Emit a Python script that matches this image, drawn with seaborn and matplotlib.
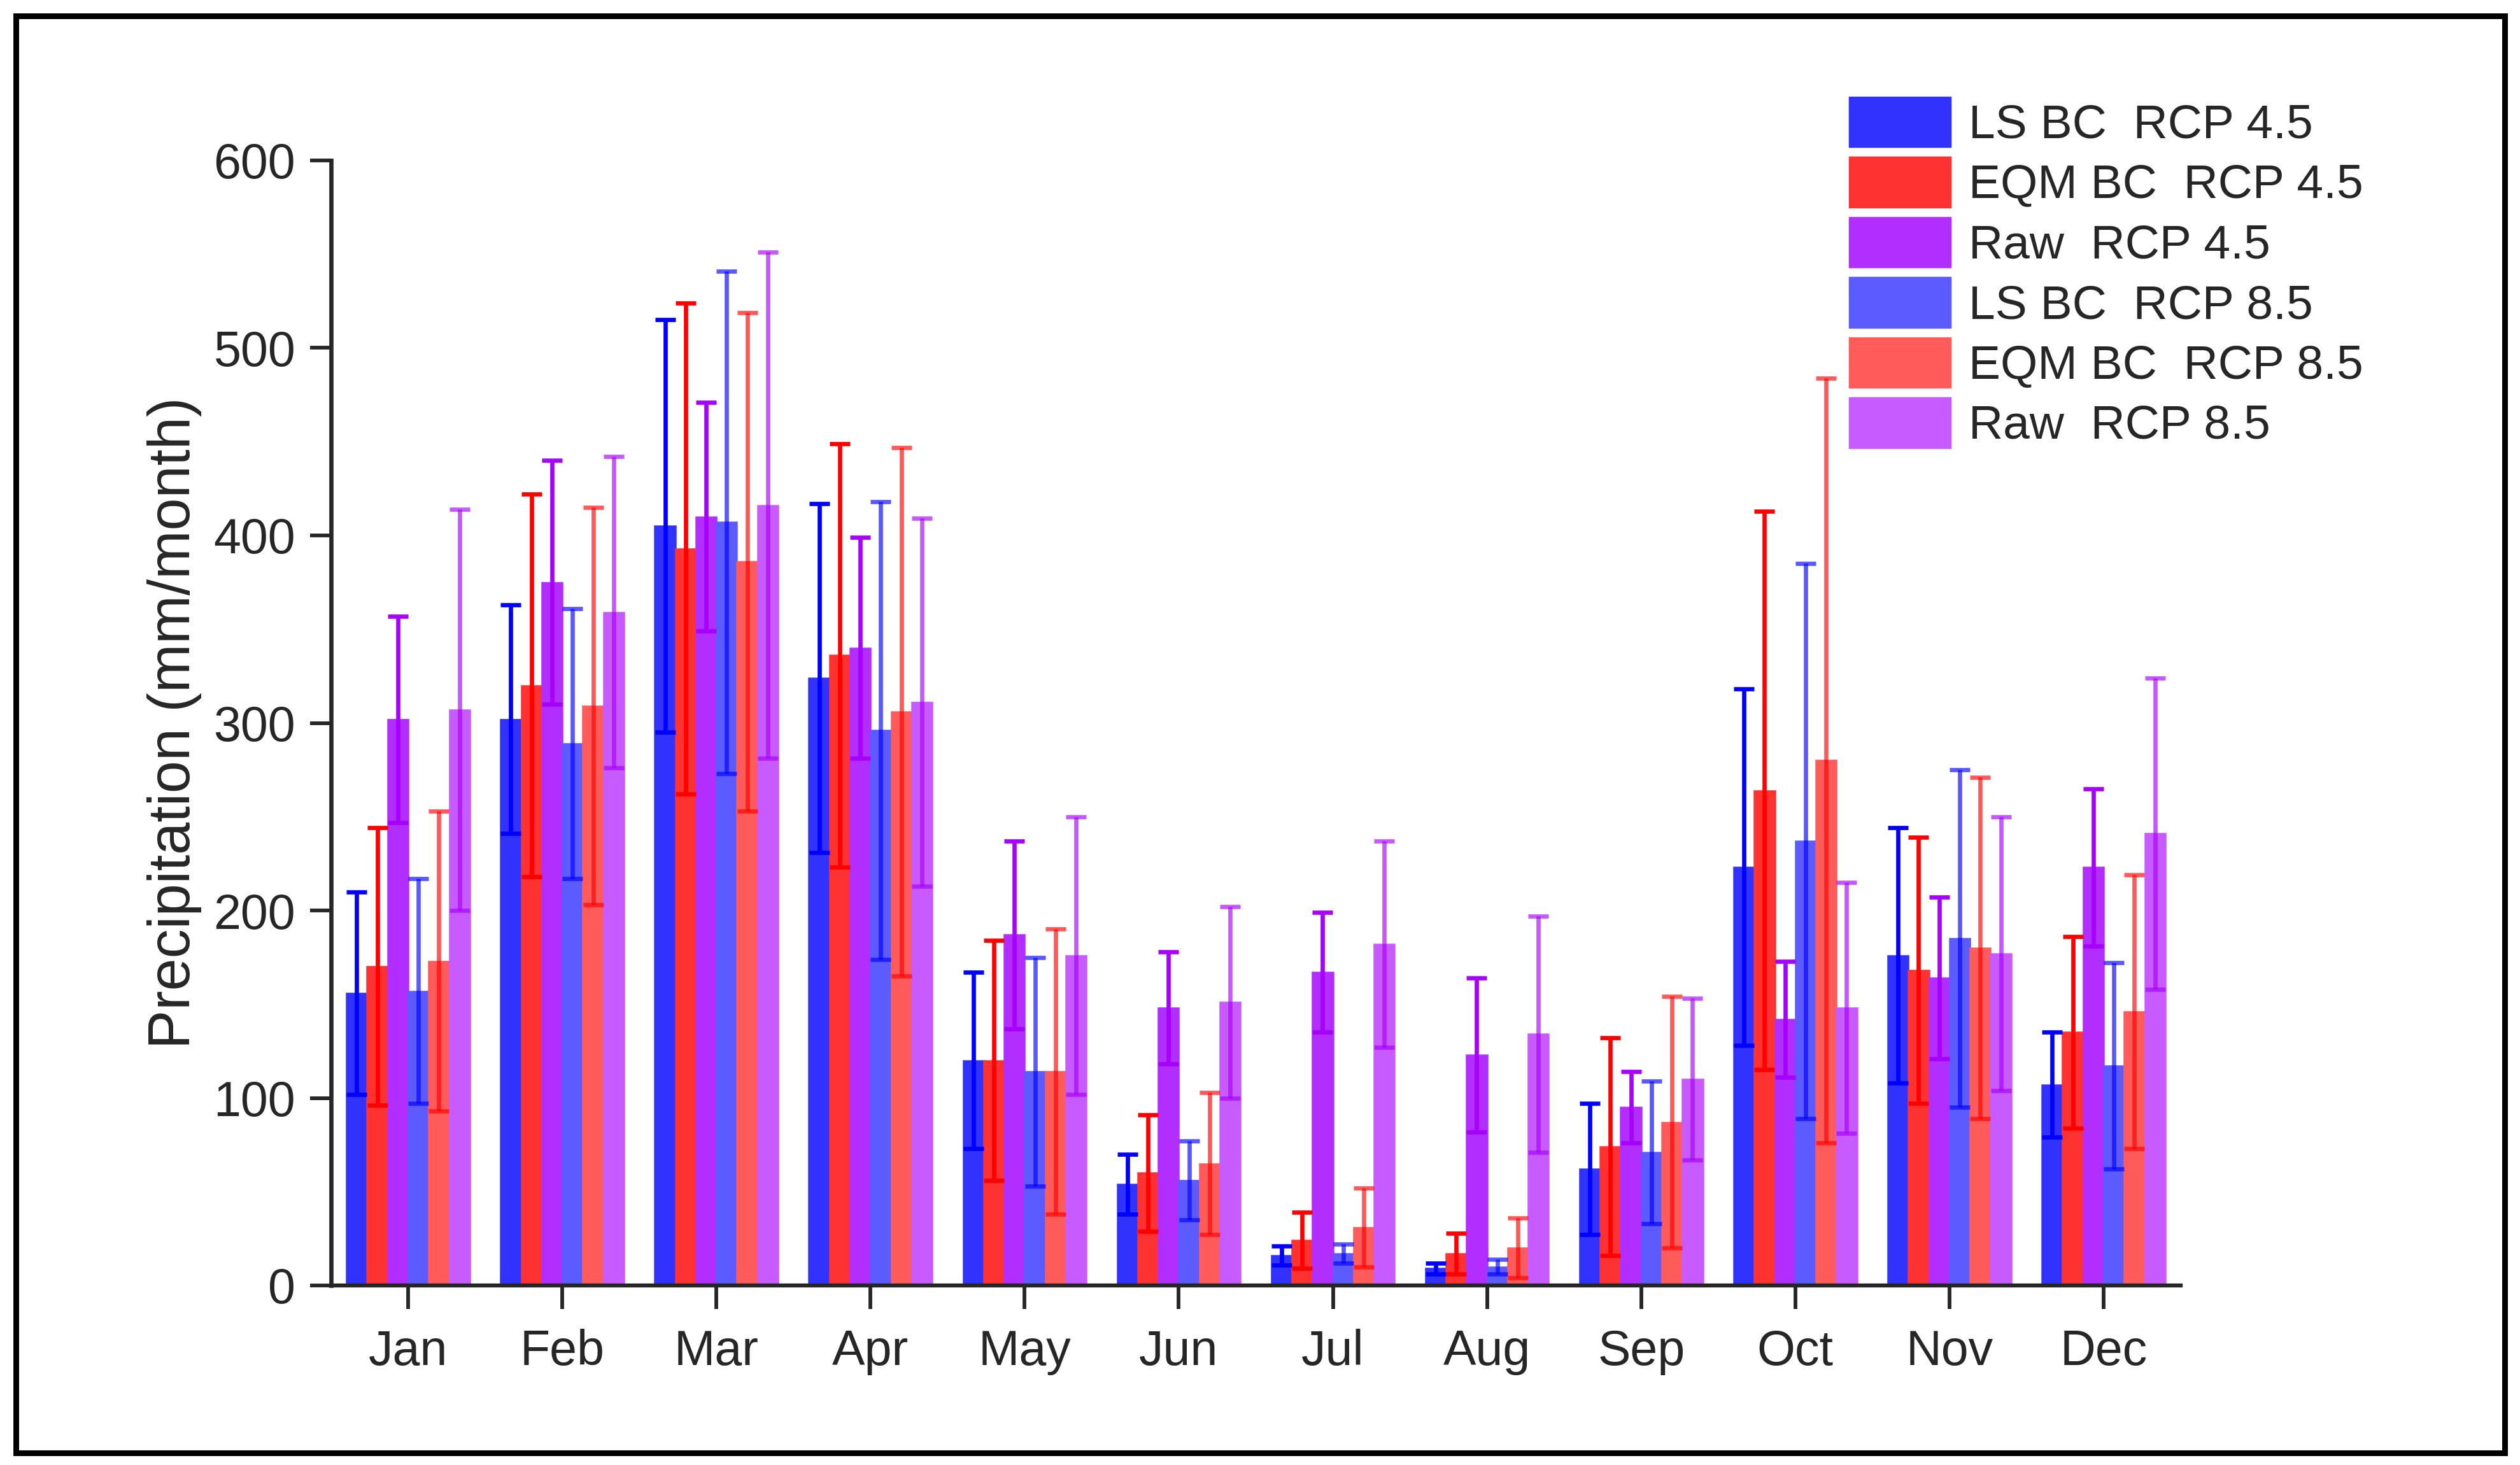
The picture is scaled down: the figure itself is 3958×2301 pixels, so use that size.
import matplotlib
matplotlib.use("Agg")
import matplotlib.pyplot as plt
from matplotlib.patches import Rectangle
import seaborn as sns
import pandas as pd
import numpy as np

months = ["Jan", "Feb", "Mar", "Apr", "May", "Jun", "Jul", "Aug", "Sep", "Oct", "Nov", "Dec"]
series = ["LS BC  RCP 4.5", "EQM BC  RCP 4.5", "Raw  RCP 4.5",
          "LS BC  RCP 8.5", "EQM BC  RCP 8.5", "Raw  RCP 8.5"]

ls45_mean = [156, 302, 405, 324, 120, 54, 16, 9, 62, 223, 176, 107]
ls45_sd = [54, 61, 110, 93, 47, 16, 5, 3, 35, 95, 68, 28]
eqm45_mean = [170, 320, 393, 336, 120, 60, 24, 17, 74, 264, 168, 135]
eqm45_sd = [74, 102, 131, 113, 64, 31, 15, 11, 58, 149, 71, 51]
raw45_mean = [302, 375, 410, 340, 187, 148, 167, 123, 95, 142, 164, 223]
raw45_sd = [55, 65, 61, 59, 50, 30, 32, 41, 19, 31, 43, 42]
ls85_mean = [157, 289, 407, 296, 114, 56, 17, 10, 71, 237, 185, 117]
ls85_sd = [60, 72, 134, 122, 61, 21, 5, 4, 38, 148, 90, 55]
eqm85_mean = [173, 309, 386, 306, 114, 65, 31, 20, 87, 280, 180, 146]
eqm85_sd = [80, 106, 133, 141, 76, 38, 21, 16, 67, 204, 91, 73]
raw85_mean = [307, 359, 416, 311, 176, 151, 182, 134, 110, 148, 177, 241]
raw85_sd = [107, 83, 135, 98, 74, 51, 55, 63, 43, 67, 73, 83]

means = [ls45_mean, eqm45_mean, raw45_mean, ls85_mean, eqm85_mean, raw85_mean]
sds = [ls45_sd, eqm45_sd, raw45_sd, ls85_sd, eqm85_sd, raw85_sd]

bar_colors = ["#3232FF", "#FF3232", "#B22EFF", "#5B5BFF", "#FF5B5B", "#C85BFF"]
err_colors = ["#0000FF", "#FF0000", "#A600FF", "#0000FF", "#FF0000", "#A600FF"]
err_alpha = [1.0, 1.0, 1.0, 0.65, 0.65, 0.65]

rows = []
for s, m in zip(series, means):
    for mo, v in zip(months, m):
        rows.append({"month": mo, "series": s, "value": v})
df = pd.DataFrame(rows)

sns.set_style("ticks")
plt.rcParams["font.family"] = ["Liberation Sans", "DejaVu Sans"]

W, H = 3958, 2301
fig = plt.figure(figsize=(W / 300, H / 300), dpi=300)
ax = fig.add_axes([520 / W, 1 - 2019 / H, (3425 - 520) / W, (2019 - 252) / H])

sns.barplot(data=df, x="month", y="value", hue="series", order=months, hue_order=series,
            palette=bar_colors, saturation=1, errorbar=None, width=0.8, ax=ax,
            linewidth=0.6)

for cont, ec in zip(ax.containers, bar_colors):
    for p in cont:
        p.set_edgecolor(ec)
        p.set_zorder(2)

for cont, sd, m, c, a in zip(ax.containers, sds, means, err_colors, err_alpha):
    xs = [p.get_x() + p.get_width() / 2 for p in cont]
    ax.errorbar(xs, m, yerr=sd, fmt="none", ecolor=c, alpha=a, elinewidth=1.6,
                capsize=3.9, capthick=1.6, zorder=3)

ax.set_xlim(-0.5, 11.5)
ax.set_ylim(0, 600)
ax.set_yticks(range(0, 601, 100))
ax.set_xlabel("")
ax.set_ylabel("Precipitation (mm/month)", fontsize=22)
ax.yaxis.set_label_coords(-0.07, 0.5)

for side in ["top", "right"]:
    ax.spines[side].set_visible(False)
ax.spines["left"].set_linewidth(1.6)
ax.spines["bottom"].set_linewidth(1.5)
ax.tick_params(axis="y", length=7.9, width=1.4, pad=5.5, labelsize=18.5, direction="out")
ax.tick_params(axis="x", length=8.9, width=1.4, pad=7.5, labelsize=18.5, direction="out")

handles, labels = ax.get_legend_handles_labels()
if ax.get_legend() is not None:
    ax.get_legend().remove()
fig.legend(handles, labels, loc="upper left", bbox_to_anchor=(2902 / W, 1 - 150 / H),
           bbox_transform=fig.transFigure, frameon=False, fontsize=18,
           handlelength=2.19, handleheight=1.33, labelspacing=0.15,
           handletextpad=0.35, borderpad=0, borderaxespad=0)

fig.patches.append(Rectangle((24.5 / W, 1 - 2281.5 / H), (3933.5 - 24.5) / W, (2281.5 - 24.5) / H,
                             transform=fig.transFigure, fill=False, lw=2.16, ec="black"))

fig.savefig("out.png", dpi=300)
